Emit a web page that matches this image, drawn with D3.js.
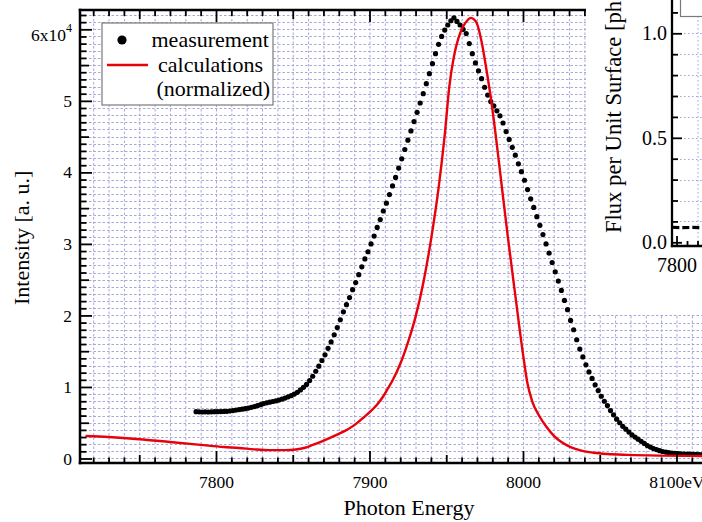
<!DOCTYPE html>
<html>
<head>
<meta charset="utf-8">
<script src="https://cdn.jsdelivr.net/npm/d3@7"></script>
<style>
  html, body { margin: 0; padding: 0; background: #fff; }
  svg { display: block; font-family: "Liberation Serif", "Times New Roman", serif; }
</style>
</head>
<body>
<svg id="chart" width="702" height="522"></svg>
<script>
// ---- data -------------------------------------------------------------
// Measured spectrum, sampled every 2 eV from 7787 eV (units of 10^4)
const measStartEV = 7787;
const measStepEV = 2;
const measurement = [
  0.655, 0.652, 0.650, 0.652, 0.650, 0.653, 0.655, 0.654, 0.656, 0.658,
  0.660, 0.664, 0.670, 0.677, 0.684, 0.690, 0.697, 0.705, 0.715, 0.726,
  0.738, 0.752, 0.768, 0.778, 0.788, 0.797, 0.806, 0.817, 0.830, 0.845,
  0.862, 0.880, 0.900, 0.925, 0.958, 0.995, 1.035, 1.09, 1.15, 1.22,
  1.29, 1.37, 1.45, 1.54, 1.63, 1.73, 1.83, 1.94, 2.05, 2.15,
  2.25, 2.36, 2.46, 2.57, 2.68, 2.79, 2.89, 3.00, 3.11, 3.23,
  3.34, 3.46, 3.57, 3.69, 3.81, 3.93, 4.06, 4.19, 4.32, 4.45,
  4.58, 4.71, 4.84, 4.97, 5.10, 5.24, 5.38, 5.52, 5.66, 5.79,
  5.90, 5.99, 6.06, 6.12, 6.16, 6.11, 6.06, 6.00, 5.94, 5.80,
  5.66, 5.53, 5.42, 5.31, 5.19, 5.08, 4.99, 4.93, 4.86, 4.79,
  4.69, 4.57, 4.46, 4.35, 4.24, 4.12, 4.01, 3.89, 3.76, 3.63,
  3.51, 3.38, 3.26, 3.13, 3.00, 2.87, 2.74, 2.61, 2.48, 2.35,
  2.21, 2.08, 1.93, 1.80, 1.66, 1.53, 1.42, 1.31, 1.21, 1.12,
  1.03, 0.95, 0.87, 0.80, 0.74, 0.67, 0.61, 0.55, 0.50, 0.45,
  0.41, 0.37, 0.33, 0.30, 0.27, 0.24, 0.21, 0.18, 0.16, 0.14,
  0.125, 0.11, 0.098, 0.09, 0.082, 0.076, 0.072, 0.068, 0.065, 0.063,
  0.061, 0.060, 0.058, 0.057, 0.056, 0.055, 0.055
];

// Calculated spectrum (normalized to the measured peak)
const calcEnergy = [
  7715, 7730, 7750, 7770, 7790, 7805, 7815, 7825, 7835, 7845,
  7852, 7858, 7863, 7869, 7875, 7880, 7886, 7891, 7896, 7901,
  7905, 7909, 7912, 7915, 7920, 7925, 7930, 7935, 7940, 7945,
  7949, 7952, 7955, 7958, 7961, 7964, 7966, 7968, 7970, 7973,
  7976, 7979, 7982, 7985, 7990, 7995, 8000, 8003, 8006, 8011,
  8015, 8020, 8025, 8031, 8038, 8046, 8055, 8068, 8090, 8110, 8130
];
const calcIntensity = [
  0.315, 0.30, 0.27, 0.23, 0.19, 0.16, 0.147, 0.128, 0.117, 0.117,
  0.125, 0.15, 0.19, 0.24, 0.295, 0.345, 0.41, 0.48, 0.57, 0.665,
  0.755, 0.87, 0.98, 1.09, 1.32, 1.62, 1.98, 2.45, 3.05, 3.78,
  4.52, 5.20, 5.62, 5.88, 6.04, 6.13, 6.16, 6.14, 6.08, 5.83,
  5.46, 5.05, 4.56, 4.02, 3.12, 2.28, 1.46, 1.04, 0.80, 0.58,
  0.45, 0.32, 0.23, 0.16, 0.11, 0.08, 0.062, 0.05, 0.04, 0.036, 0.034
];

const xTickValues = [7800, 7900, 8000, 8100];
const xTickLabels = ["7800", "7900", "8000", "8100eV"];
const yTickValues = [0, 1, 2, 3, 4, 5, 6];
const yTickLabels = ["0", "1", "2", "3", "4", "5", "6x10"];
const yExponent = "4";
const legendLabels = ["measurement", "calculations", "(normalized)"];

// Flux panel
const fluxTickValues = [0, 0.5, 1.0];
const fluxTickLabels = ["0.0", "0.5", "1.0"];
const fluxXTickValues = [7800];
const fluxXTickLabels = ["7800"];
const fluxEnergy = [7796, 7805, 7815, 7825, 7835];
const fluxValue = [0.072, 0.070, 0.071, 0.070, 0.070];

// ---- layout -----------------------------------------------------------
const svg = d3.select("#chart");
const P = { left: 80, top: 10, right: 738, bottom: 463 };
const x = d3.scaleLinear().domain([7711.4, 8140.07]).range([P.left, P.right]);
const y = d3.scaleLinear().domain([-0.063, 6.27]).range([P.bottom, P.top]);
const gridColor = "#8a8ad0";

svg.append("defs").append("clipPath").attr("id", "plotClip")
  .append("rect").attr("x", P.left).attr("y", P.top)
  .attr("width", P.right - P.left).attr("height", P.bottom - P.top);

// grid
const xAll = d3.range(7720, 8140, 10);
const yAll = d3.range(0, 63).map(i => i / 10);
const grid = svg.append("g").attr("clip-path", "url(#plotClip)")
  .attr("stroke", gridColor).attr("stroke-width", 1)
  .attr("stroke-dasharray", "2.5,2").attr("opacity", 0.75);
grid.selectAll("line.v").data(xAll).join("line").attr("class", "v")
  .attr("x1", d => x(d) + 0.5).attr("x2", d => x(d) + 0.5)
  .attr("y1", P.top).attr("y2", P.bottom);
grid.selectAll("line.h").data(yAll).join("line").attr("class", "h")
  .attr("y1", d => Math.round(y(d)) + 0.5).attr("y2", d => Math.round(y(d)) + 0.5)
  .attr("x1", P.left).attr("x2", P.right);

// data
const plot = svg.append("g").attr("clip-path", "url(#plotClip)");
const measData = measurement.map((v, i) => [measStartEV + i * measStepEV, v]);
plot.append("g").selectAll("circle").data(measData).join("circle")
  .attr("cx", d => x(d[0])).attr("cy", d => y(d[1])).attr("r", 2.6)
  .attr("fill", "#000");

const calcData = calcEnergy.map((e, i) => [e, calcIntensity[i]]);
plot.append("path").datum(calcData)
  .attr("fill", "none").attr("stroke", "#e8000b").attr("stroke-width", 2.4)
  .attr("stroke-linejoin", "round")
  .attr("d", d3.line().x(d => x(d[0])).y(d => y(d[1])).curve(d3.curveMonotoneX));

// ticks
function ticks(gen, transform) {
  const g = svg.append("g").attr("transform", transform).call(gen);
  g.select(".domain").remove();
  g.selectAll(".tick line").attr("stroke", "#000").attr("stroke-width", 1.8);
  g.attr("font-family", "Liberation Serif, serif").attr("font-size", 17.5);
  g.selectAll("text").attr("fill", "#000");
  return g;
}
const xMid = xAll.filter(d => d % 50 === 0 && d % 100 !== 0);
const xMinor = xAll.filter(d => d % 50 !== 0);
const yMid = [0.5, 1.5, 2.5, 3.5, 4.5, 5.5];
const yMinor = yAll.filter(d => Math.round(d * 10) % 5 !== 0);

// bottom
ticks(d3.axisBottom(x).tickValues(xTickValues).tickSize(-12).tickSizeOuter(0).tickPadding(12.5)
  .tickFormat((d, i) => xTickLabels[i]), `translate(0,${P.bottom})`);
ticks(d3.axisBottom(x).tickValues(xMid).tickSize(-8).tickSizeOuter(0).tickFormat(""), `translate(0,${P.bottom})`);
ticks(d3.axisBottom(x).tickValues(xMinor).tickSize(-5.5).tickSizeOuter(0).tickFormat(""), `translate(0,${P.bottom})`);
// top
ticks(d3.axisTop(x).tickValues(xTickValues).tickSize(-12).tickSizeOuter(0).tickFormat(""), `translate(0,${P.top})`);
ticks(d3.axisTop(x).tickValues(xMid).tickSize(-9).tickSizeOuter(0).tickFormat(""), `translate(0,${P.top})`);
ticks(d3.axisTop(x).tickValues(xMinor).tickSize(-6).tickSizeOuter(0).tickFormat(""), `translate(0,${P.top})`);
// left
const yl = ticks(d3.axisLeft(y).tickValues(yTickValues).tickSize(-12).tickSizeOuter(0).tickPadding(8)
  .tickFormat((d, i) => yTickLabels[i]), `translate(${P.left},0)`);
yl.selectAll(".tick").filter(d => d === 6).select("text")
  .attr("dy", "0.62em")
  .append("tspan").attr("dy", "-0.75em").attr("font-size", 12).text(yExponent);
ticks(d3.axisLeft(y).tickValues(yMid).tickSize(-9).tickSizeOuter(0).tickFormat(""), `translate(${P.left},0)`);
ticks(d3.axisLeft(y).tickValues(yMinor).tickSize(-6.5).tickSizeOuter(0).tickFormat(""), `translate(${P.left},0)`);

// frame
const frame = svg.append("g").attr("stroke", "#000").attr("stroke-width", 2.5).attr("stroke-linecap", "square");
frame.append("line").attr("x1", P.left).attr("x2", P.left).attr("y1", P.top).attr("y2", P.bottom);
frame.append("line").attr("x1", P.left).attr("x2", P.right).attr("y1", P.bottom).attr("y2", P.bottom);
frame.append("line").attr("x1", P.left).attr("x2", P.right).attr("y1", P.top).attr("y2", P.top);

// axis titles
svg.append("text").attr("x", 409).attr("y", 515).attr("text-anchor", "middle")
  .attr("font-size", 22).attr("fill", "#000").text("Photon Energy");
svg.append("text").attr("transform", "translate(28.5,305) rotate(-90)")
  .attr("font-size", 22).attr("fill", "#000").text("Intensity [a. u.]");

// legend
const lg = svg.append("g");
lg.append("rect").attr("x", 102).attr("y", 23).attr("width", 171).attr("height", 82)
  .attr("fill", "#fff").attr("stroke", "#7a7a7a").attr("stroke-width", 1.2);
lg.append("circle").attr("cx", 122).attr("cy", 40).attr("r", 4.6).attr("fill", "#000");
lg.append("line").attr("x1", 107).attr("x2", 148).attr("y1", 65).attr("y2", 65)
  .attr("stroke", "#e8000b").attr("stroke-width", 2.4);
lg.append("text").attr("x", 151.5).attr("y", 46.5).attr("font-size", 22).text(legendLabels[0]);
lg.append("text").attr("x", 158).attr("y", 71.5).attr("font-size", 22).text(legendLabels[1]);
lg.append("text").attr("x", 156.5).attr("y", 96).attr("font-size", 22).text(legendLabels[2]);

// ---- flux panel (upper right) -----------------------------------------
const inset = svg.append("g");
inset.append("rect").attr("x", 586).attr("y", 0).attr("width", 130).attr("height", 314).attr("fill", "#fff");
const ix = d3.scaleLinear().domain([7795.7, 7830]).range([672, 672 + 34.3 * 1.05]);
const iy = d3.scaleLinear().domain([0, 1]).range([242.3, 33.3]);

const iGrid = inset.append("g").attr("stroke", gridColor).attr("stroke-width", 1)
  .attr("stroke-dasharray", "1.5,2.5").attr("opacity", 0.8);
iGrid.selectAll("line.h").data(d3.range(1, 12).map(i => i / 10)).join("line").attr("class", "h")
  .attr("x1", 672).attr("x2", 710)
  .attr("y1", d => Math.round(iy(d)) + 0.5).attr("y2", d => Math.round(iy(d)) + 0.5);
iGrid.append("line").attr("x1", ix(7820) + 0.5).attr("x2", ix(7820) + 0.5).attr("y1", 0).attr("y2", 246);

inset.append("path").datum(fluxEnergy.map((e, i) => [e, fluxValue[i]]))
  .attr("fill", "none").attr("stroke", "#000").attr("stroke-width", 3.2)
  .attr("stroke-dasharray", "7,3")
  .attr("d", d3.line().x(d => ix(d[0])).y(d => iy(d[1])));

function iticks(gen, transform) {
  const g = inset.append("g").attr("transform", transform).call(gen);
  g.select(".domain").remove();
  g.selectAll(".tick line").attr("stroke", "#000").attr("stroke-width", 1.8);
  g.attr("font-family", "Liberation Serif, serif").attr("font-size", 20);
  g.selectAll("text").attr("fill", "#000");
  return g;
}
iticks(d3.axisLeft(iy).tickValues(fluxTickValues).tickSize(-10).tickSizeOuter(0).tickPadding(5)
  .tickFormat((d, i) => fluxTickLabels[i]), "translate(672,0)");
iticks(d3.axisLeft(iy).tickValues([0.1, 0.2, 0.3, 0.4, 0.6, 0.7, 0.8, 0.9, 1.1]).tickSize(-6)
  .tickSizeOuter(0).tickFormat(""), "translate(672,0)");
iticks(d3.axisBottom(ix).tickValues(fluxXTickValues).tickSize(-10).tickSizeOuter(0).tickPadding(12)
  .tickFormat((d, i) => fluxXTickLabels[i]), "translate(0,246)");
iticks(d3.axisBottom(ix).tickValues([7810, 7820, 7830]).tickSize(-5).tickSizeOuter(0).tickFormat(""), "translate(0,246)");

const iframe = inset.append("g").attr("stroke", "#000").attr("stroke-width", 2.3).attr("stroke-linecap", "square");
iframe.append("line").attr("x1", 672).attr("x2", 672).attr("y1", -5).attr("y2", 246);
iframe.append("line").attr("x1", 672).attr("x2", 710).attr("y1", 246).attr("y2", 246);

inset.append("rect").attr("x", 680.5).attr("y", -5).attr("width", 40).attr("height", 21.5)
  .attr("fill", "#fff").attr("stroke", "#7a7a7a").attr("stroke-width", 1.2);

inset.append("text").attr("transform", "translate(620.5,233) rotate(-90)")
  .attr("font-size", 22.6).attr("fill", "#000").text("Flux per Unit Surface [photons/s/mm²]");
</script>
</body>
</html>
